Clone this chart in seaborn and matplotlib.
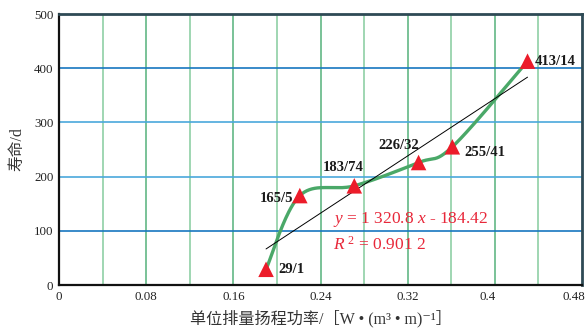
import numpy as np
import pandas as pd
import matplotlib
matplotlib.use("Agg")
import matplotlib.pyplot as plt
import matplotlib.transforms as mtransforms
import seaborn as sns

# Unit-displacement head power vs. pump life
power = [0.190, 0.221, 0.271, 0.330, 0.361, 0.430]
life = [29, 165, 183, 226, 255, 413]
point_labels = ["29/1", "165/5", "183/74", "226/32", "255/41", "413/14"]
# label offsets (points) and alignment for each marker label
label_offsets = [(9, 0), (-5, -2), (-8, 13), (-14, 12), (9, -4), (5, 0)]
label_align = ["left", "right", "center", "center", "left", "left"]

# linear fit y = a*x + b
fit_slope = 1320.8
fit_intercept = -184.42
fit_r2 = 0.9012
fit_range = [0.190, 0.430]

x_ticks = [0, 0.08, 0.16, 0.24, 0.32, 0.4, 0.48]
x_tick_labels = ["0", "0.08", "0.16", "0.24", "0.32", "0.4", "0.48"]
y_ticks = [0, 100, 200, 300, 400, 500]

sns.set_style("white")
plt.rcParams["font.family"] = ["Liberation Serif", "Noto Sans CJK SC", "DejaVu Serif"]
plt.rcParams["mathtext.fontset"] = "custom"
plt.rcParams["mathtext.rm"] = "Liberation Serif"
plt.rcParams["mathtext.it"] = "Liberation Serif:italic"

fig = plt.figure(figsize=(5.85, 3.29), dpi=100)
ax = fig.add_axes([0.1009, 0.1337, 0.8940, 0.8237])

ax.set_xlim(0, 0.48)
ax.set_ylim(0, 500)

# grid
for i, gx in enumerate(np.arange(0.04, 0.48, 0.04)):
    ax.axvline(gx, color="#62b885" if i % 2 else "#8fd0a6", lw=1.2, zorder=1)
for gy in [100, 200, 300, 400]:
    ax.axhline(gy, color="#1877c0" if gy in (100, 400) else "#4aa8dc", lw=1.2, zorder=1)

# smoothed connecting curve (Bezier segments through the points)
pts = np.column_stack([power, life])
curve = []
n = len(pts)
t = np.linspace(0, 1, 40)
for i in range(n - 1):
    p0 = pts[max(i - 1, 0)]
    p1 = pts[i]
    p2 = pts[i + 1]
    p3 = pts[min(i + 2, n - 1)]
    c1 = p1 + (p2 - p0) / 6
    c2 = p2 - (p3 - p1) / 6
    seg = ((1 - t) ** 3)[:, None] * p1 + (3 * (1 - t) ** 2 * t)[:, None] * c1 \
        + (3 * (1 - t) * t ** 2)[:, None] * c2 + (t ** 3)[:, None] * p2
    curve.append(seg if i == 0 else seg[1:])
curve = np.vstack(curve)
curve_df = pd.DataFrame({"x": curve[:, 0], "y": curve[:, 1]})
sns.lineplot(data=curve_df, x="x", y="y", sort=False, estimator=None,
             color="#4aa868", lw=2.4, ax=ax, zorder=3)

# regression line
fit_x = np.array(fit_range)
fit_df = pd.DataFrame({"x": fit_x, "y": fit_slope * fit_x + fit_intercept})
sns.lineplot(data=fit_df, x="x", y="y", color="black", lw=0.7, ax=ax, zorder=4)

# markers
df = pd.DataFrame({"power": power, "life": life})
sns.scatterplot(data=df, x="power", y="life", marker="^", s=125,
                color="#ec1c2a", edgecolor="none", ax=ax, zorder=5)

for xv, yv, lab, off, ha in zip(power, life, point_labels, label_offsets, label_align):
    ax.annotate(lab, (xv, yv), xytext=off, textcoords="offset points",
                ha=ha, va="center", fontsize=10.5, fontweight="bold",
                color="#1a1a1a", zorder=6)

ax.text(0.2515, 120, r"$y$ = 1 320.8 $x$ - 184.42", color="#e8283a",
        fontsize=12.5, va="center", ha="left", zorder=6)
ax.text(0.2515, 74, r"$R^{\ 2}$ = 0.901 2", color="#e8283a",
        fontsize=12.5, va="center", ha="left", zorder=6)

ax.set_xticks(x_ticks)
ax.set_xticklabels(x_tick_labels)
ax.set_yticks(y_ticks)
ax.tick_params(axis="both", length=0, labelsize=9.3, colors="#222222", pad=4)

# keep the last x tick label inside the figure
last = ax.get_xticklabels()[-1]
last.set_horizontalalignment("right")
last.set_transform(last.get_transform() + mtransforms.ScaledTranslation(2 / 72, 0, fig.dpi_scale_trans))
lab04 = ax.get_xticklabels()[-2]
lab04.set_transform(lab04.get_transform() + mtransforms.ScaledTranslation(-5 / 72, 0, fig.dpi_scale_trans))

ax.set_xlabel("单位排量扬程功率/［W • (m³ • m)⁻¹］", fontsize=11.6, color="#333333", labelpad=5)
ax.set_ylabel("寿命/d", fontsize=11.3, color="#333333", labelpad=6)

for side in ["left", "bottom"]:
    ax.spines[side].set_color("#111111")
    ax.spines[side].set_linewidth(1.6)
for side in ["top", "right"]:
    ax.spines[side].set_color("#2e4a55")
    ax.spines[side].set_linewidth(2)
for s in ax.spines.values():
    s.set_zorder(7)

fig.savefig("out.png", dpi=100)
